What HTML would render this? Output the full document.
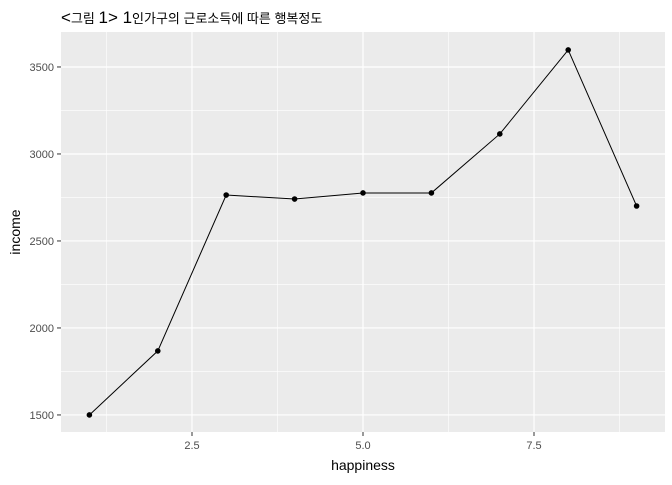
<!DOCTYPE html>
<html><head><meta charset="utf-8"><style>
body{margin:0;background:#fff}
svg{font-family:"Liberation Sans","Noto Sans CJK KR",sans-serif}
</style></head><body>
<svg width="672" height="480">
<text x="61" y="23" font-size="13" fill="#000"><tspan font-size="17">&lt;</tspan>그림 <tspan font-size="17">1&gt; 1</tspan>인가구의 근로소득에 따른 행복정도</text>
<g id="plot"></g>
</svg>
<script>
const happiness=[1,2,3,4,5,6,7,8,9];
const income=[1500,1868,2764,2741,2776,2776,3115,3598,2701];
const xTicks=[2.5,5.0,7.5];
const xTickLabels=["2.5","5.0","7.5"];
const yTicks=[1500,2000,2500,3000,3500];
const yTickLabels=["1500","2000","2500","3000","3500"];
const L=61,R=665,T=32,B=432;
const xmin=0.585,xmax=9.415,ymin=1402,ymax=3701;
const X=v=>L+(v-xmin)/(xmax-xmin)*(R-L);
const Y=v=>B-(v-ymin)/(ymax-ymin)*(B-T);
const g=document.getElementById('plot');const NS="http://www.w3.org/2000/svg";
function mk(t,a,p){const e=document.createElementNS(NS,t);for(const k in a)e.setAttribute(k,a[k]);(p||g).appendChild(e);return e;}
const bg=mk('rect',{x:L,y:T,width:R-L,height:B-T,fill:'#ebebeb'});


for(let i=0;i<xTicks.length+1;i++){const v=(i===0?xTicks[0]-1.25:xTicks[i-1]+1.25);const l=mk('line',{x1:X(v),x2:X(v),y1:T,y2:B,stroke:'#fff','stroke-width':0.6});

}
for(let i=0;i<yTicks.length;i++){const v=yTicks[i]+250;if(v<ymax){const l=mk('line',{x1:L,x2:R,y1:Y(v),y2:Y(v),stroke:'#fff','stroke-width':0.6});

}}
xTicks.forEach((v,i)=>{const l=mk('line',{x1:X(v),x2:X(v),y1:T,y2:B,stroke:'#fff','stroke-width':1.2});


mk('line',{x1:X(v),x2:X(v),y1:B,y2:B+4,stroke:'#333'});
const t=mk('text',{x:X(v),y:B+17,'text-anchor':'middle','font-size':11,fill:'#4d4d4d'});t.textContent=xTickLabels[i];

});
yTicks.forEach((v,i)=>{const l=mk('line',{x1:L,x2:R,y1:Y(v),y2:Y(v),stroke:'#fff','stroke-width':1.2});


mk('line',{x1:L-4,x2:L,y1:Y(v),y2:Y(v),stroke:'#333'});
const t=mk('text',{x:L-7,y:Y(v)+4,'text-anchor':'end','font-size':11,fill:'#4d4d4d'});t.textContent=yTickLabels[i];

});
const pl=mk('polyline',{points:happiness.map((h,i)=>X(h)+','+Y(income[i])).join(' '),fill:'none',stroke:'#000','stroke-width':1});


happiness.forEach((h,i)=>{const c=mk('circle',{cx:X(h),cy:Y(income[i]),r:2.8,fill:'#000'});

});
const xt=mk('text',{x:(L+R)/2,y:470,'text-anchor':'middle','font-size':14,fill:'#000'});xt.textContent='happiness';


const yt=mk('text',{x:0,y:0,'text-anchor':'middle','font-size':14,fill:'#000',transform:`translate(20,${(T+B)/2}) rotate(-90)`});yt.textContent='income';


</script>
</body></html>
